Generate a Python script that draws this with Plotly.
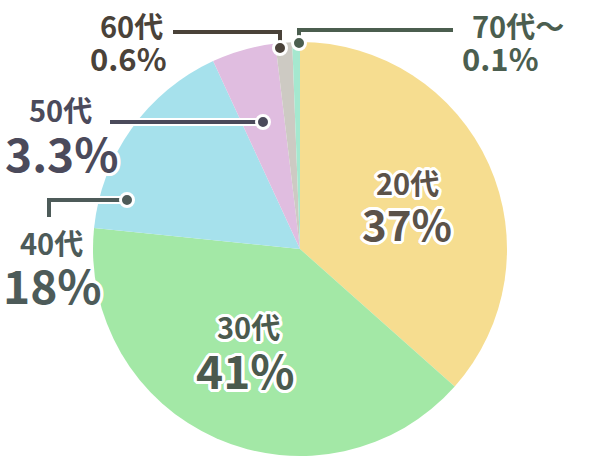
import plotly.graph_objects as go

# ---- data ----
categories = ["20代", "30代", "40代", "50代", "60代", "70代～"]
shares_drawn = [36.6, 40.1, 16.5, 5.0, 1.3, 0.6]   # slice sizes as drawn
share_labels = ["37%", "41%", "18%", "3.3%", "0.6%", "0.1%"]

# ---- style ----
slice_colors = ["#F6DD90", "#A3E8A6", "#A6E1EC", "#E0BDE0", "#CDCAC3", "#A5E8CF"]
text_colors = ["#5B5249", "#4B5A4E", "#4D5B59", "#4B4A5B", "#4A4239", "#4B5E4F"]
FONT = "Noto Sans CJK JP"
W, H = 600, 460

def px(x):
    return x / W

def py(y):
    return 1 - y / H

# label placements (pixel centres): category label, share label, sizes
label_layout = [
    ((407, 182), (407, 222), 29, 42),
    ((248, 326), (246, 369), 29, 46),
    ((51, 242), (52, 284), 29, 46),
    ((60, 109), (62, 152), 29, 46),
    ((131, 25), (128, 58), 29, 31),
    ((518, 25), (500, 58), 29, 31),
]
# leader lines (pixel polylines, first point = dot)
leaders = {
    2: [(127, 200), (49, 200), (49, 217)],
    3: [(263, 122), (110, 122)],
    4: [(280, 48), (280, 32), (173, 32)],
    5: [(299, 43), (299, 30), (453, 30)],
}

outline = ", ".join(f"{dx}px {dy}px 0 #fff" for dx, dy in
                    [(3, 0), (-3, 0), (0, 3), (0, -3), (2, 2), (-2, -2), (2, -2), (-2, 2),
                     (3, 1), (-3, 1), (3, -1), (-3, -1), (1, 3), (-1, 3), (1, -3), (-1, -3)])

fig = go.Figure(go.Pie(
    labels=categories,
    values=shares_drawn,
    sort=False,
    direction="clockwise",
    rotation=0,
    marker=dict(colors=slice_colors, line=dict(width=0)),
    textinfo="none",
    hoverinfo="label+percent",
    domain=dict(x=[px(93), px(507)], y=[py(456), py(42)]),
    showlegend=False,
))

shapes = []
for i, pts in leaders.items():
    col = text_colors[i]
    path = "M " + " L ".join(f"{px(x)},{py(y)}" for x, y in pts)
    shapes.append(dict(type="path", path=path, xref="paper", yref="paper",
                       line=dict(color="#FFFFFF", width=8), layer="above"))
    shapes.append(dict(type="path", path=path, xref="paper", yref="paper",
                       line=dict(color=col, width=4), layer="above"))
for i, pts in leaders.items():
    col = text_colors[i]
    cx, cy = pts[0]
    r = 6.5
    shapes.append(dict(type="circle", xref="paper", yref="paper",
                       x0=px(cx - r), x1=px(cx + r), y0=py(cy + r), y1=py(cy - r),
                       fillcolor=col, line=dict(color="#FFFFFF", width=3), layer="above"))

annotations = []
for i, (cat, lab) in enumerate(zip(categories, share_labels)):
    (cxp, cyp), (sxp, syp), fs1, fs2 = label_layout[i]
    col = text_colors[i]
    annotations.append(dict(text=cat, x=px(cxp), y=py(cyp), xref="paper", yref="paper",
                            showarrow=False, xanchor="center", yanchor="middle",
                            font=dict(family=FONT, size=fs1, color=col, weight=700,
                                      shadow=outline)))
    annotations.append(dict(text=lab, x=px(sxp), y=py(syp), xref="paper", yref="paper",
                            showarrow=False, xanchor="center", yanchor="middle",
                            font=dict(family=FONT, size=fs2, color=col, weight=700,
                                      shadow=outline)))

fig.update_layout(
    width=W, height=H,
    margin=dict(l=0, r=0, t=0, b=0),
    paper_bgcolor="#FFFFFF",
    plot_bgcolor="#FFFFFF",
    shapes=shapes,
    annotations=annotations,
)

fig.write_html("out.html", config={"displayModeBar": False},
               post_script="document.body.style.margin='0';")
